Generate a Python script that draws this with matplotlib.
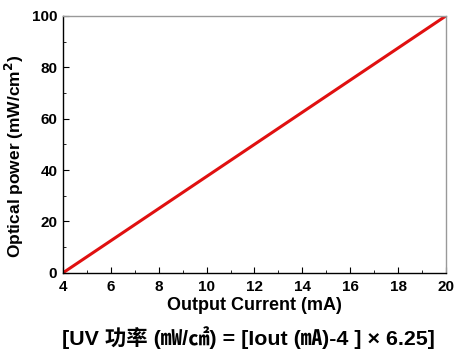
import matplotlib.pyplot as plt
from matplotlib.ticker import MultipleLocator

plt.rcParams['font.family'] = ['Liberation Sans', 'Noto Sans CJK TC', 'DejaVu Sans']
plt.rcParams['font.weight'] = 'bold'

# output current (mA) vs optical power (mW/cm2)
current = [4, 6, 8, 10, 12, 14, 16, 18, 20]
power = [0, 12.5, 25, 37.5, 50, 62.5, 75, 87.5, 100]

xticks = [4, 6, 8, 10, 12, 14, 16, 18, 20]
yticks = [0, 20, 40, 60, 80, 100]

fig = plt.figure(figsize=(4.56, 3.53), dpi=100)
ax = fig.add_axes([0.138, 0.227, 0.840, 0.728])

ax.plot(current, power, color='#e01010', linewidth=2.2, solid_capstyle='round')

ax.set_xlim(4, 20)
ax.set_ylim(0, 100)
ax.set_xticks(xticks)
ax.set_yticks(yticks)
ax.xaxis.set_minor_locator(MultipleLocator(1))
ax.yaxis.set_minor_locator(MultipleLocator(10))
ax.tick_params(which='both', direction='in', top=False, right=False, labelsize=11)
ax.tick_params(axis='x', pad=5)
ax.tick_params(axis='y', pad=4)
ax.tick_params(which='major', length=4)
ax.tick_params(which='minor', length=2)

for side in ['left', 'bottom']:
    ax.spines[side].set_color('black')
for side in ['top', 'right']:
    ax.spines[side].set_color('#999999')
for sp in ax.spines.values():
    sp.set_linewidth(1.0)

ax.set_xlabel('Output Current (mA)', fontsize=13, fontweight='bold', labelpad=2)
ax.set_ylabel('Optical power (mW/cm$^2$)', fontsize=12.5, fontweight='bold')
ax.yaxis.set_label_coords(-0.097, 0.455)

fig.text(0.545, 0.043, '[UV 功率 (㎽/㎠) = [Iout (㎃)-4 ] × 6.25]',
         ha='center', va='center', fontsize=15.4, fontweight='bold')

fig.savefig('out.png', dpi=100)
